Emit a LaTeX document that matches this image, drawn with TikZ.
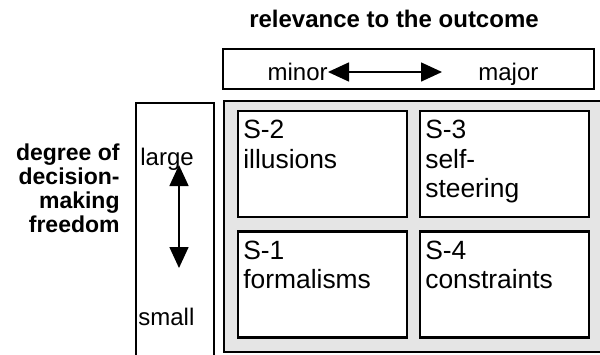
\documentclass[tikz,border=0pt]{standalone}
\usepackage{fontspec}
\setmainfont{Liberation Sans}
\usetikzlibrary{arrows.meta,positioning}

\begin{document}
\begin{tikzpicture}[
  x=0.5pt, y=-0.5pt,
  font=\fontsize{12}{14.5}\selectfont,
  >={Triangle[length=10.5pt,width=9.5pt]},
  axis/.style={font=\fontsize{11.5}{11.5}\selectfont\bfseries, inner sep=0pt},
  frame/.style={draw, line width=0.6pt, inner sep=0pt},
  word/.style={inner sep=0pt},
  cell/.style={draw, line width=1.1pt, fill=white, inner sep=0pt,
    minimum width=84.5pt, minimum height=53pt},
  celltext/.style={anchor=north west, align=left, inner sep=0pt,
    font=\fontsize{13.2}{14.7}\selectfont, xshift=3pt, yshift=-5pt}
]
  \useasboundingbox (0,0) rectangle (600,354);

  % Axis titles
  \node[axis, font=\fontsize{12}{14}\selectfont\bfseries, anchor=base] (reltitle) at (394,27)
    {relevance to the outcome};
  \node[axis, align=right, anchor=base east] (freetitle) at (120,232)
    {degree of\\[0.5pt]decision-\\[0.5pt]making\\[0.5pt]freedom};

  % Scale boxes
  \node[frame, minimum width=185.5pt, minimum height=20pt] (relbox) at (408.5,69) {};
  \node[frame, minimum width=39pt, minimum height=130pt] (freebox) at (175,233) {};

  \node[word, anchor=base east] (minor) at (328,80) {minor};
  \node[word, anchor=base west] (major) at (478,80) {major};
  \node[word, anchor=base west] (large) at (140,165) {large};
  \node[word, anchor=base west] (small) at (138,325) {small};

  \coordinate (relmin) at (328,72);
  \coordinate (relmax) at (442,72);
  \coordinate (freemax) at (179,165);
  \coordinate (freemin) at (179,268);
  \draw[line width=0.8pt, <->] (relmin) -- (relmax);
  \draw[line width=0.8pt, <->] (freemax) -- (freemin);

  % Strategy grid
  \node[frame, fill=black!10, minimum width=190pt, minimum height=125.5pt] (grid) at (414,226.5) {};

  \node[cell, label={[celltext]north west:S-2\\illusions}] (s2) at (322.5,164) {};
  \node[cell, label={[celltext]north west:S-3\\self-\\steering}] (s3) at (504.5,164) {};
  \node[cell, label={[celltext]north west:S-1\\formalisms}] (s1) at (322.5,284.5) {};
  \node[cell, label={[celltext]north west:S-4\\constraints}] (s4) at (504.5,284.5) {};
\end{tikzpicture}
\end{document}
